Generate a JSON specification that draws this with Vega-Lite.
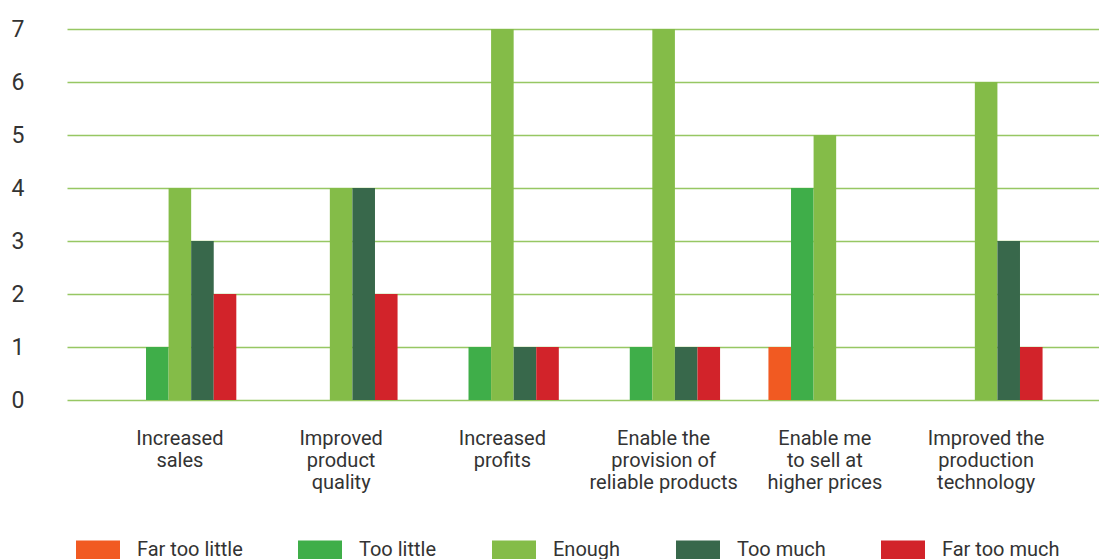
{
  "$schema": "https://vega.github.io/schema/vega-lite/v6.json",
  "width": 1032,
  "height": 371,
  "autosize": {"type": "none"},
  "padding": {"left": 67, "top": 29, "right": 0, "bottom": 159},
  "background": "white",
  "config": {
    "view": {"stroke": null},
    "font": "Roboto"
  },
  "data": {
    "values": [
      {"benefit": "Increased|sales", "rating": "Far too little", "count": 0},
      {"benefit": "Increased|sales", "rating": "Too little", "count": 1},
      {"benefit": "Increased|sales", "rating": "Enough", "count": 4},
      {"benefit": "Increased|sales", "rating": "Too much", "count": 3},
      {"benefit": "Increased|sales", "rating": "Far too much", "count": 2},
      {"benefit": "Improved|product|quality", "rating": "Far too little", "count": 0},
      {"benefit": "Improved|product|quality", "rating": "Too little", "count": 0},
      {"benefit": "Improved|product|quality", "rating": "Enough", "count": 4},
      {"benefit": "Improved|product|quality", "rating": "Too much", "count": 4},
      {"benefit": "Improved|product|quality", "rating": "Far too much", "count": 2},
      {"benefit": "Increased|profits", "rating": "Far too little", "count": 0},
      {"benefit": "Increased|profits", "rating": "Too little", "count": 1},
      {"benefit": "Increased|profits", "rating": "Enough", "count": 7},
      {"benefit": "Increased|profits", "rating": "Too much", "count": 1},
      {"benefit": "Increased|profits", "rating": "Far too much", "count": 1},
      {"benefit": "Enable the|provision  of|reliable products", "rating": "Far too little", "count": 0},
      {"benefit": "Enable the|provision  of|reliable products", "rating": "Too little", "count": 1},
      {"benefit": "Enable the|provision  of|reliable products", "rating": "Enough", "count": 7},
      {"benefit": "Enable the|provision  of|reliable products", "rating": "Too much", "count": 1},
      {"benefit": "Enable the|provision  of|reliable products", "rating": "Far too much", "count": 1},
      {"benefit": "Enable me|to sell at|higher prices", "rating": "Far too little", "count": 1},
      {"benefit": "Enable me|to sell at|higher prices", "rating": "Too little", "count": 4},
      {"benefit": "Enable me|to sell at|higher prices", "rating": "Enough", "count": 5},
      {"benefit": "Enable me|to sell at|higher prices", "rating": "Too much", "count": 0},
      {"benefit": "Enable me|to sell at|higher prices", "rating": "Far too much", "count": 0},
      {"benefit": "Improved the|production|technology", "rating": "Far too little", "count": 0},
      {"benefit": "Improved the|production|technology", "rating": "Too little", "count": 0},
      {"benefit": "Improved the|production|technology", "rating": "Enough", "count": 6},
      {"benefit": "Improved the|production|technology", "rating": "Too much", "count": 3},
      {"benefit": "Improved the|production|technology", "rating": "Far too much", "count": 1}
    ]
  },
  "mark": {"type": "bar"},
  "encoding": {
    "x": {
      "field": "benefit",
      "type": "nominal",
      "sort": null,
      "scale": {"paddingInner": 0.3, "paddingOuter": 0.35},
      "axis": {
        "title": null,
        "labelAngle": 0,
        "labelExpr": "split(datum.value, '|')",
        "labelFontSize": 20,
        "labelLineHeight": 22,
        "labelColor": "#333333",
        "labelPadding": 28,
        "labelBaseline": "top",
        "domain": false,
        "ticks": false
      }
    },
    "xOffset": {
      "field": "rating",
      "type": "nominal",
      "sort": ["Far too little", "Too little", "Enough", "Too much", "Far too much"]
    },
    "y": {
      "field": "count",
      "type": "quantitative",
      "scale": {"domain": [0, 7]},
      "axis": {
        "title": null,
        "values": [0, 1, 2, 3, 4, 5, 6, 7],
        "labelFontSize": 23,
        "labelColor": "#333333",
        "labelPadding": 43,
        "domain": false,
        "ticks": false,
        "gridColor": "#8cc152",
        "gridOpacity": 0.9,
        "gridWidth": 1.5
      }
    },
    "color": {
      "field": "rating",
      "type": "nominal",
      "sort": ["Far too little", "Too little", "Enough", "Too much", "Far too much"],
      "scale": {
        "domain": ["Far too little", "Too little", "Enough", "Too much", "Far too much"],
        "range": ["#f15a22", "#3fae49", "#84bc48", "#38684b", "#d2232a"]
      },
      "legend": {
        "title": null,
        "orient": "none",
        "direction": "horizontal",
        "columns": 5,
        "legendX": 9,
        "legendY": 499,
        "symbolType": "M-1,-0.43L1,-0.43L1,0.43L-1,0.43Z",
        "symbolSize": 1936,
        "symbolStrokeWidth": 0,
        "symbolOpacity": 1,
        "labelFontSize": 20,
        "labelColor": "#333333",
        "labelOffset": 17,
        "columnPadding": 55,
        "padding": 0
      }
    }
  }
}
